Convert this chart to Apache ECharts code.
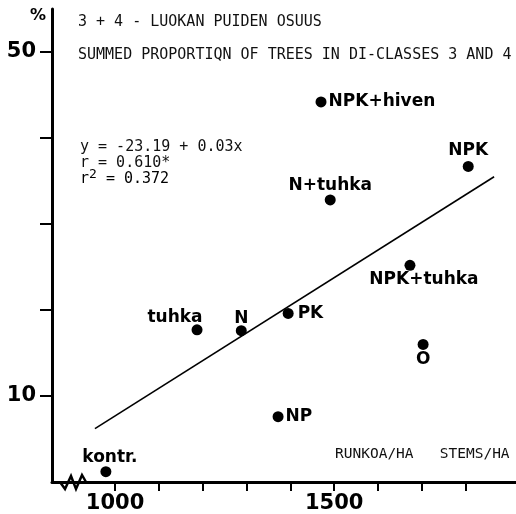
<!DOCTYPE html>
<html><head><meta charset="utf-8">
<script src="https://cdn.jsdelivr.net/npm/echarts@6/dist/echarts.min.js"></script>
<style>html,body{margin:0;padding:0;background:#fff}#c{width:516px;height:514px}</style>
</head><body><div id="c"></div>
<script>
// ---- data ----
const treatments = ['NPK+hiven','NPK','N+tuhka','NPK+tuhka','PK','O','tuhka','N','NP','kontr.'];
const stemsPerHa = [1470,1806,1491,1673,1395,1703,1187,1288,1372,979];
const proportion = [44.2,36.7,32.8,25.2,19.6,16.0,17.7,17.6,7.6,1.2];
const fitX = [954,1865];
const fitY = [6.2,35.5];
const yTickValues = [10,20,30,40,50];
const yLabelValues = [10,50];
const xTickValues = [1000,1100,1200,1300,1400,1500,1600,1700,1800];
const xLabelValues = [1000,1500];
const titleLines = ['3 + 4 - LUOKAN PUIDEN OSUUS','SUMMED PROPORTIQN OF TREES IN DI-CLASSES 3 AND 4'];
const statLines = ['y = -23.19 + 0.03x','r = 0.610*','r2 = 0.372'];
const xUnitText = 'RUNKOA/HA   STEMS/HA';
const yUnitText = '%';

// ---- label placement (style only) ----
const labelPlace = {
  'NPK+hiven': {position:'right', distance:2},
  'NPK': {position:'top', distance:2},
  'N+tuhka': {position:'top', distance:0},
  'NPK+tuhka': {position:'bottom', distance:0, offset:[14,0]},
  'PK': {position:'right', distance:4},
  'O': {position:'bottom', distance:1},
  'tuhka': {position:'top', distance:0, offset:[-22,2]},
  'N': {position:'top', distance:0, offset:[0,2]},
  'NP': {position:'right', distance:2},
  'kontr.': {position:'top', distance:0, offset:[4,0]}
};

const mono = 'DejaVu Sans Mono';
const pts = treatments.map((n,i)=>({
  name:n, value:[stemsPerHa[i], proportion[i]],
  label:Object.assign({show:true, formatter:'{b}'}, labelPlace[n])
}));

const chart = echarts.init(document.getElementById('c'), null, {renderer:'canvas'});
chart.setOption({
  animation:false,
  backgroundColor:'#fff',
  grid:{left:52, right:0, top:9, bottom:32, containLabel:false},
  xAxis:{
    type:'value', min:856, max:1915,
    axisLine:{show:true, onZero:false, lineStyle:{color:'#000', width:3}},
    axisTick:{show:true, length:9, lineStyle:{color:'#000', width:2}, customValues:xTickValues},
    axisLabel:{show:true, margin:11, color:'#000', fontFamily:'DejaVu Sans', fontWeight:'bold', fontSize:21,
      formatter:v=>String(v), customValues:xLabelValues},
    splitLine:{show:false}
  },
  yAxis:{
    type:'value', min:0, max:55,
    axisLine:{show:true, onZero:false, lineStyle:{color:'#000', width:3}},
    axisTick:{show:true, length:12, lineStyle:{color:'#000', width:2}, customValues:yTickValues},
    axisLabel:{show:true, margin:16, color:'#000', fontFamily:'DejaVu Sans', fontWeight:'bold', fontSize:21,
      formatter:v=>String(v), customValues:yLabelValues},
    splitLine:{show:false}
  },
  series:[
    {
      type:'line', data:fitX.map((x,i)=>[x,fitY[i]]), symbol:'none',
      lineStyle:{color:'#000', width:1.6}, z:1
    },
    {
      type:'scatter', data:pts, symbol:'circle', symbolSize:11,
      itemStyle:{color:'#000', opacity:1},
      label:{color:'#000', fontFamily:'DejaVu Sans', fontWeight:'bold', fontSize:17},
      emphasis:{disabled:true},
      z:3
    }
  ],
  graphic:[
    {type:'text', x:30, y:8, style:{text:yUnitText, fontFamily:'DejaVu Sans', fontWeight:'bold', fontSize:16, fill:'#000'}},
    {type:'text', x:78, y:22, style:{text:titleLines[0], fontFamily:mono, fontSize:15, fill:'#111', verticalAlign:'middle'}},
    {type:'text', x:78, y:55, style:{text:titleLines[1], fontFamily:mono, fontSize:15, fill:'#111', verticalAlign:'middle'}},
    {type:'text', x:80, y:147, style:{text:statLines[0], fontFamily:mono, fontSize:15, fill:'#111', verticalAlign:'middle'}},
    {type:'text', x:80, y:163, style:{text:statLines[1], fontFamily:mono, fontSize:15, fill:'#111', verticalAlign:'middle'}},
    {type:'text', x:80, y:179, style:{
      text:'{a|r}{s|'+statLines[2].charAt(1)+'}{a|'+statLines[2].slice(2)+'}',
      verticalAlign:'middle',
      rich:{a:{fontFamily:mono, fontSize:15, color:'#111'}, s:{fontFamily:mono, fontSize:13, color:'#111', verticalAlign:'top', padding:[0,0,8,0]}}
    }},
    {type:'text', x:335, y:454, style:{text:xUnitText, fontFamily:mono, fontSize:14.5, fill:'#111', verticalAlign:'middle'}},
    {type:'polyline', shape:{points:[[60,482],[65,489],[71,476],[76,489],[82,475],[86,482]]}, style:{stroke:'#000', lineWidth:2.5, fill:null}, z:10}
  ]
});
</script></body></html>
